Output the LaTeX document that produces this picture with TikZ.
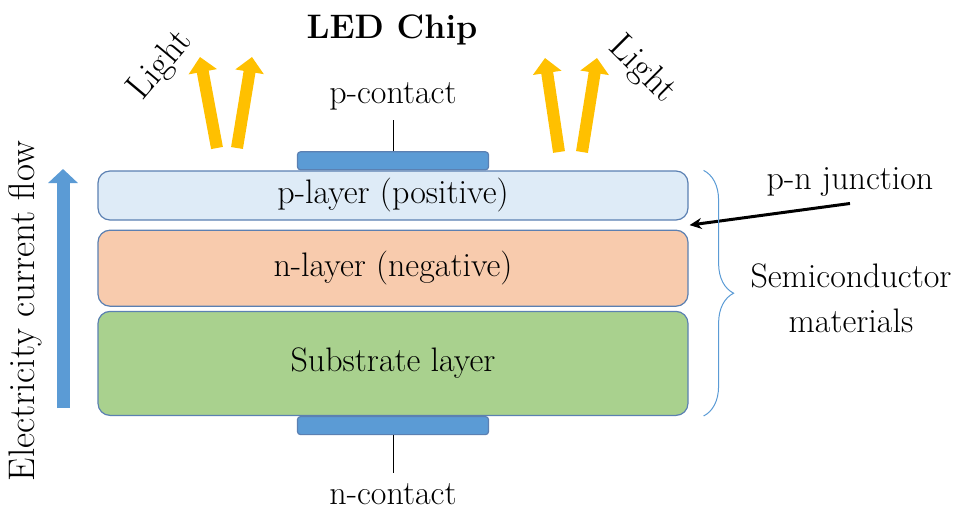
\documentclass[tikz,border=0pt]{standalone}
\usetikzlibrary{arrows.meta, positioning, calc, decorations.pathreplacing}
\definecolor{pfill}{HTML}{DEEBF7}
\definecolor{nfill}{HTML}{F8CBAD}
\definecolor{subfill}{HTML}{A9D18E}
\definecolor{edge}{HTML}{5B80B2}
\definecolor{contactblue}{HTML}{5B9BD5}
\definecolor{beamyellow}{HTML}{FFC000}
\tikzstyle{layer} = [rectangle, rounded corners=6pt, minimum width=295pt, inner sep=0pt, draw=edge, line width=0.6pt, text centered]
\tikzstyle{contact} = [rectangle, rounded corners=1.5pt, minimum width=95.5pt, minimum height=9pt, inner sep=0pt, draw=edge, line width=0.6pt, fill=contactblue]
\tikzstyle{beam} = [line width=6pt, beamyellow, -{Triangle[width=14pt, length=7.5pt]}]
\tikzstyle{flow} = [line width=6.5pt, contactblue, -{Triangle[width=14.5pt, length=7pt]}]
\tikzstyle{arrow} = [line width=1.5pt, -{Stealth[length=6pt, width=5.5pt]}]
\tikzstyle{brace} = [decorate, decoration={brace, amplitude=15pt}, draw=contactblue, line width=0.5pt]

\begin{document}
\begin{tikzpicture}[x=0.5pt, y=-0.5pt, every node/.style={font=\fontsize{17}{22.5}\selectfont}]
  \useasboundingbox (0,0) rectangle (976,514);

  % Layers
  \node[layer, fill=pfill, minimum height=24.5pt] (player) at (393,195.5) {p-layer (positive)};
  \node[layer, fill=nfill, minimum height=38pt, below=4.5pt of player] (nlayer) {n-layer (negative)};
  \node[layer, fill=subfill, minimum height=52pt, below=2pt of nlayer] (sublayer) {Substrate layer};

  % Contacts
  \node[contact, above=0pt of player] (pcontact) {};
  \node[contact, below=0pt of sublayer] (ncontact) {};
  \node[inner sep=5pt, above=15.5pt of pcontact] (plabel) {p-contact};
  \node[inner sep=5pt, below=19pt of ncontact] (nlabel) {n-contact};
  \draw (pcontact) -- (plabel);
  \draw (ncontact) -- (nlabel);

  \node[font=\fontsize{17}{22.5}\selectfont\bfseries] (title) at (392,30) {LED Chip};

  % Light
  \draw[beam] (217,148) -- (200,57);
  \draw[beam] (237,148) -- (252,57);
  \draw[beam] (559,152) -- (545,58);
  \draw[beam] (582,152) -- (597,58);
  \node[rotate=50, font=\fontsize{18.5}{22.5}\selectfont] (llight) at (161,66) {Light};
  \node[rotate=-45, font=\fontsize{18.5}{22.5}\selectfont] (rlight) at (642,70) {Light};

  % Current
  \draw[flow] (63,408) -- (63,169);
  \node[rotate=90, font=\fontsize{18.5}{22.5}\selectfont] (flowlabel) at (25,311) {Electricity current flow};

  % Junction
  \node (jlabel) at (850,182) {p-n junction};
  \coordinate (junc) at ($(player.south east)!0.5!(nlayer.north east)+(1,0)$);
  \draw[arrow] (jlabel.south) -- (junc);

  % Semiconductor
  \draw[brace] ([xshift=7.5pt]player.north east) -- ([xshift=7.5pt]sublayer.south east);
  \node[align=center] (semi) at (851,298) {Semiconductor\\materials};
\end{tikzpicture}
\end{document}
